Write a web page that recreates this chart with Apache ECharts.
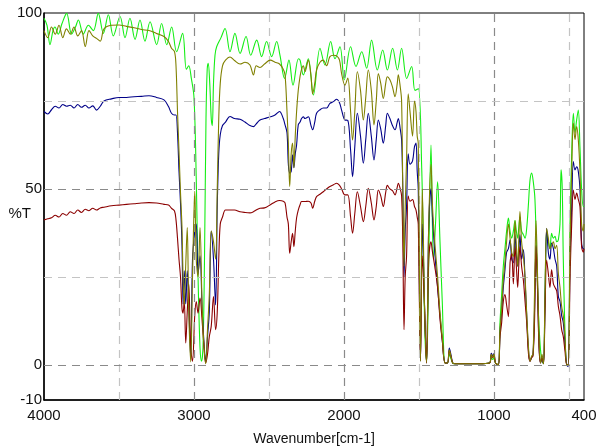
<!DOCTYPE html>
<html>
<head>
<meta charset="utf-8">
<script src="https://cdn.jsdelivr.net/npm/echarts@6/dist/echarts.min.js"></script>
<style>
html,body{margin:0;padding:0;background:#fff;}
#c{width:600px;height:447px;}
</style>
</head>
<body>
<div id="c"></div>
<script>
// Wavenumber grid shared by the olive, navy and dark red spectra
const wn = [
4000,3975,3950,3925,3900,3875,3850,3825,3800,3775,3750,3725,3700,3675,3650,3625,3600,3550,3500,3450,3400,3350,3300,3250,3200,3170,3150,3130,
3120,3110,3100,3090,3080,3073,3065,3055,3045,3035,3022,3010,2995,2985,2973,2960,2945,2933,2922,2910,2898,2885,2870,2856,2845,2835,2825,2810,2790,
2760,2730,2693,2660,2627,2604,2585,2560,2530,2491,2460,2430,2405,2393,2380,2371,2362,2352,2343,2334,2325,2316,2305,2293,2283,2271,
2260,2238,2220,2209,2195,2183,2160,2138,2116,2094,2070,2049,2030,2016,1994,1975,1956,1943,1928,1911,1890,1871,1855,1838,1818,1800,1785,1771,1755,1738,1722,1711,1694,1677,1660,1645,1638,1625,1616,
1608,1600,1592,1583,1572,1560,1543,1530,1520,1512,
1505,1490,1478,1462,1450,1435,1420,1410,1395,1376,1360,1345,1326,
1310,1298,1285,1275,1260,1200,1100,1030,1018,1008,1000,990,
971,960,949,938,927,916,904,893,882,871,860,851,842,835,827,816,804,793,782,770,760,750,740,730,720,712,700,690,680,670,660,649,638,627,616,604,593,582,571,560,549,538,527,515,505,493,482,471,460,449,438,427,416,405,400
];
const oliveT = [
95,93,96,94,96.5,93,95.5,94,96,93.5,95,90.5,95,93.5,92.8,92,95.5,96.5,96.6,96.2,95.8,95.3,95,94.2,93.3,91.9,90,89,
85,72,60.7,49,39,24.8,17,28.6,39,15.4,0.8,24.8,49.3,30,25,39,15.4,5,0.3,10,20,38,35,30,50,70,80,85,86.6,
87.5,86.5,85.5,86,85.2,82.4,85,84.5,85.5,86.6,86,85.5,84,82.4,72,63,50.7,60,63,56,65,72,78,82,84,85,
83.3,86.6,82,77,80,83.8,86,86.6,85,87.6,88,87.8,86.6,82.8,79.5,81.5,72,63.9,72,83.3,78,69.6,76,83.8,78,68.2,75,82.8,80,75.7,80,81.9,81,79,76.2,80,82.4,79,75,
50,28,45,58,77,72,65,75,72,65,
63,1,50,15,0.5,40,57,45,35,25,15,8,0.5,
0.5,4.3,2,0.5,0.3,0.3,0.3,0.5,3,2.2,3,0.5,
0,10,16,24,29,35,40,36,32,30.8,41,34,28,35,43.6,35,30.8,25,14.7,5,1,2.4,3,20,41,30,8,0.5,3,0.3,20,38.8,36,33,34,35,33,34,26,22,16.6,14,8,0,0,35,55,68.7,64,67.7,64,55,40,38,40
];
const navyT = [
72,71.3,72.5,73.5,73,74,73.5,73.8,73,74,73.2,73.8,73,73.6,72.4,73.5,75,75.6,76,76,76.2,76.3,76.5,76,75.3,73.4,71.5,71,
71,66,55,46,34,17.3,26.7,17.3,26.7,17.3,2,30,38,40,25.8,31,15,6,0.8,8,15,38,30,17,45,60,65.4,68,69,
70.6,70,69.8,69,68,67.7,68.5,69.6,70,70.5,71,72,70,68.2,66,57,54.5,55,59.7,56,60,62.5,68.2,69,70,70.5,
70,70.5,68,66.8,69,71.5,72.5,73,73,74.3,74.8,75.5,74.5,72.4,69.6,69.5,61,53.5,62,71.5,65,57.3,64,71.5,65,58.2,64,69.6,67,63,68,71.5,70,68,66.8,69,70,67,64,
50,25,38,45,60,57,58,62,63,55,
50,1,40,15,0.5,40,50,42,32,22,14,7,0.5,
0.5,4.8,2.5,0.5,0.3,0.3,0.3,0.5,3.3,2.5,3.2,0.5,
0,9,15,22,27,32,33,35.5,30,29,37,31,28,32,37,30,32.7,24,14,4,1,2,3,15,34,27,6,0.5,2,0.3,18,38.8,32,30,34.6,33,30,28,19.4,18,14,12,6,0,-0.5,30,45,57.8,55.4,56.3,55,50,34.6,33,33
];
const redT = [
41.2,41.5,41.8,42.5,42,43,42.5,43.5,43,44,43.3,44.2,43.8,44.5,44,44.6,44.8,45.2,45.4,45.6,45.8,46,46.1,46,45.6,45.4,44.5,43.7,
41.2,36,30,25,16,14.7,18.5,6.2,15,23,5,1,14,18,14.7,19,12,5,0.5,3,8,11,19.4,10,15,30,40,42,44,
44,44,43.5,43.3,43.2,43.5,44,44.5,44.6,45.5,46.3,46.7,46.5,46,42,40,31.7,35,37.4,33.6,38,41.8,44,45.5,46.4,46.4,
46.4,46.5,46,44.5,46.5,47.8,48.5,49.2,50,50.7,51.2,51.6,51,50,48.3,48.3,42,37.4,43,49.2,45,40.7,45,50.2,46,41.2,45,49.7,48,45,49,51,50,49.5,48.3,50.5,51.6,50,48,
35,10,25,30.8,48,46.5,47,45,44,42,
40,1.4,31,15,0.5,30,35,32,28,22,13,7,0.5,
0.5,4,2,0.5,0.3,0.3,0.3,0.5,2.8,2,2.8,0.5,
0,8,12,18,20,17,13.7,29,31.7,23,33.6,28,22,28,33.6,28,24,18,12,3,1,2,2.5,12,33.6,25,5,0.5,2,0.3,15,29.8,26,22,27,23,22,21,16.6,14,10,8,4,0,0,25,40,49.7,47,48.8,47,45,33.6,32,33
];
// Bright green spectrum (own wavenumber grid, fringes)
const greenWn = [
4000,3980,3960,3940,3927,3905,3880,3849,3816,3790,3771,3738,3704,3671,3638,3604,3571,3538,3493,3460,3427,3393,3360,3327,3293,3249,3216,3182,3149,3116,3076,3051,3035,3018,3000,
2985,2973,2960,2950,2940,2930,2920,2912,2905,2895,2885,2878,2870,2860,2849,2820,2793,2760,2727,2693,2653,2622,2582,2549,2516,2482,2449,2427,2396,2367,2340,2304,2293,2271,2238,2204,2160,2127,2089,2060,2027,1998,1956,1920,1882,1849,1816,1778,1742,1711,1676,1644,1616,1582,1549,1527,1504,
1482,1470,1460,1449,1435,1420,1404,1390,1376,1360,1345,1326,1310,1298,1285,1275,1260,1200,1100,1030,1018,1008,1000,990,
971,960,949,938,927,916,904,893,882,871,860,851,842,835,827,816,804,793,782,770,760,749,738,727,715,704,693,682,671,660,649,638,627,616,604,593,582,571,560,553,545,538,527,515,505,493,482,471,460,449,438,427,416,405,400
];
const greenT = [
98.5,96.5,91,95,96,94,97,99.9,94,96,98,94,96.5,95,99.9,94.2,99.5,93.5,99,93,98.5,92.5,98,92,97.5,91,97,91,96,89,94.2,84,85,81.5,76,
53,25,5,1,5,30,70,84,85.7,80,70,68,80,88,90.4,93,95.6,89,94.2,88.5,93.3,88,92.3,87.6,91.9,87.6,91.9,88,81.4,86.6,79.5,87,86.6,82.4,87,76.7,90,85.2,91.9,87,90.4,81,90.4,84.8,89,84.3,92.3,83.8,89.5,83.8,90,83.8,90,81.4,84.8,78,78.5,
56,30,8,1,30,62.5,30,40,52,35,18,0.5,0.5,3,1.5,0.5,0.3,0.3,0.3,0.5,2,1.5,2,0.5,
0,12,20,28,33,38,41.7,38,36,38,41,38,36,39,42,38,37,36,38.8,46,52.5,54.5,52,47,30,14.7,6,1.4,0.3,20,38,35,33,37.4,36,36.5,35,35.5,40,55.4,50,30,10,0,0,40,60,71.5,66,69.6,72.4,62,50,45,45
];
const xLabels = [4000, 3000, 2000, 1000, 400];
const yLabels = [-10, 0, 50, 100];
const vGridDark = [3000, 2000, 1000];
const vGridLight = [3500, 2500, 1500, 500];
const hGridDark = [50, 0];
const hGridLight = [75, 25];

function zip(xs, ys) { return xs.map((x, i) => [x, ys[i]]); }
if (wn.length !== oliveT.length || wn.length !== navyT.length || wn.length !== redT.length || greenWn.length !== greenT.length) {
  console.error('length mismatch', wn.length, oliveT.length, navyT.length, redT.length, greenWn.length, greenT.length);
}

const chart = echarts.init(document.getElementById('c'), null, {renderer: 'canvas'});
const dark = {color: '#8a8a8a', type: [8, 6], width: 1.2};
const light = {color: '#c4c4c4', type: [8, 6], width: 1.2};
const gridLines = []
  .concat(vGridDark.map(v => ({xAxis: v, lineStyle: dark})))
  .concat(vGridLight.map(v => ({xAxis: v, lineStyle: light})))
  .concat(hGridDark.map(v => ({yAxis: v, lineStyle: dark})))
  .concat(hGridLight.map(v => ({yAxis: v, lineStyle: light})));

function lineSeries(name, data, color, z) {
  return {name, type: 'line', data, showSymbol: false, symbol: 'none', smooth: 0.35,
    lineStyle: {color, width: 1.1}, itemStyle: {color}, z, animation: false};
}
const font = 'Liberation Sans, Arial, sans-serif';

chart.setOption({
  animation: false,
  grid: {left: 44, right: 16, top: 13, bottom: 47, containLabel: false, outerBoundsMode: 'none',
         show: true, borderColor: '#000', borderWidth: 1},
  xAxis: {
    type: 'value', min: 400, max: 4000, inverse: true,
    name: 'Wavenumber[cm-1]', nameLocation: 'middle', nameGap: 32, nameMoveOverlap: false,
    nameTextStyle: {fontSize: 14, color: '#111', fontFamily: font},
    axisLine: {show: true, onZero: false, lineStyle: {color: '#000', width: 1.5}},
    axisTick: {show: false},
    splitLine: {show: false},
    axisLabel: {customValues: xLabels, fontSize: 15, color: '#111', margin: 8, fontFamily: font,
                formatter: v => String(v)}
  },
  yAxis: {
    type: 'value', min: -10, max: 100,
    name: '%T', nameLocation: 'middle', nameRotate: 0, nameGap: 13, nameMoveOverlap: false,
    nameTextStyle: {fontSize: 15, color: '#111', verticalAlign: 'top', fontFamily: font},
    axisLine: {show: true, onZero: false, lineStyle: {color: '#000', width: 1.5}},
    axisTick: {show: false},
    splitLine: {show: false},
    axisLabel: {customValues: yLabels, fontSize: 15, color: '#111', margin: 2, fontFamily: font,
                formatter: v => String(v)}
  },
  series: [
    {type: 'line', data: [], z: 1, silent: true,
     markLine: {silent: true, symbol: ['none', 'none'], label: {show: false}, animation: false, data: gridLines}},
    lineSeries('green', zip(greenWn, greenT), '#14ee14', 2),
    lineSeries('navy', zip(wn, navyT), '#000088', 3),
    lineSeries('darkred', zip(wn, redT), '#8b0000', 4),
    lineSeries('olive', zip(wn, oliveT), '#808000', 5)
  ]
});
</script>
</body>
</html>
